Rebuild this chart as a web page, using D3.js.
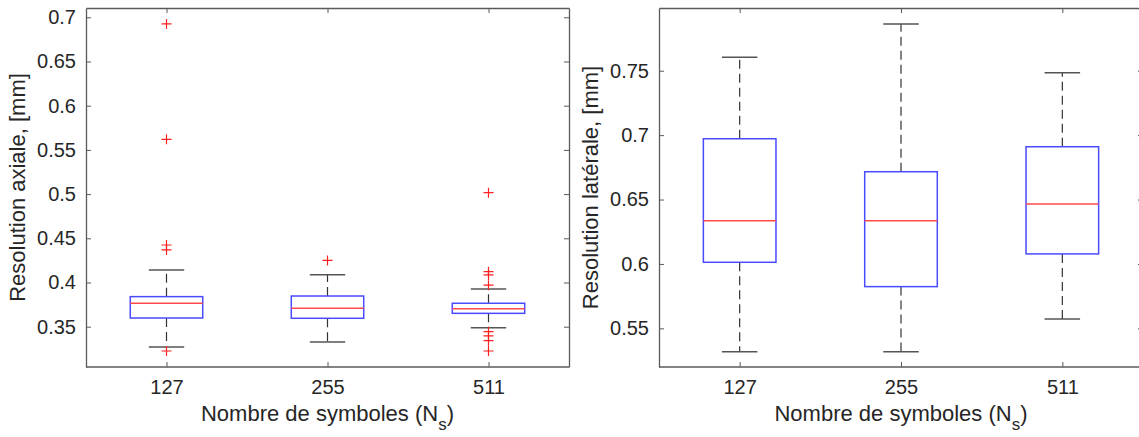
<!DOCTYPE html>
<html><head><meta charset="utf-8">
<script src="https://cdn.jsdelivr.net/npm/d3@7"></script>
<style>
html,body{margin:0;padding:0;background:#fff;}
svg{display:block;font-family:"Liberation Sans",Arial,Helvetica,sans-serif;}
</style></head>
<body><svg id="chart" width="1139" height="437"></svg>
<script>
// ---- data ----
const categories = ["127", "255", "511"];
// Left panel: Resolution axiale
const axialQ1 = [0.3598, 0.3595, 0.3651];
const axialMedian = [0.3765, 0.3708, 0.3704];
const axialQ3 = [0.3840, 0.3847, 0.3765];
const axialWhiskerLow = [0.3270, 0.3327, 0.3489];
const axialWhiskerHigh = [0.4140, 0.4088, 0.3926];
const axialOutliers127 = [0.6925, 0.5620, 0.4424, 0.4368, 0.3225];
const axialOutliers255 = [0.4250];
const axialOutliers511 = [0.5016, 0.4122, 0.4085, 0.3970, 0.3444, 0.3395, 0.3342, 0.3225];
const axialTicks = [0.35, 0.4, 0.45, 0.5, 0.55, 0.6, 0.65, 0.7];
const axialDomain = [0.3044, 0.7105];
// Right panel: Resolution latérale
const latQ1 = [0.6013, 0.5824, 0.6078];
const latMedian = [0.6335, 0.6335, 0.6465];
const latQ3 = [0.6972, 0.6716, 0.6910];
const latWhiskerLow = [0.5318, 0.5318, 0.5572];
const latWhiskerHigh = [0.7604, 0.7862, 0.7484];
const latTicks = [0.55, 0.6, 0.65, 0.7, 0.75];
const latDomain = [0.52, 0.7987];

const svg = d3.select("#chart");
const axisColor = "#5a5a5a";
const textColor = "#262626";

function panel(opts) {
  const {x0, x1, y0, y1, domain, ticks, q1, med, q3, wl, wh, outliers, ylabel, ylabelX} = opts;
  const g = svg.append("g");
  const x = d3.scalePoint().domain(categories).range([x0, x1]).padding(0.5);
  const y = d3.scaleLinear().domain(domain).range([y1, y0]);
  const step = x.step();
  const boxW = step * 0.45, capW = step * 0.22;
  const fmt = d => String(+d.toFixed(2));

  // axes (box)
  const axL = g.append("g").attr("transform", `translate(${x0},0)`)
    .call(d3.axisLeft(y).tickValues(ticks).tickFormat(fmt).tickSizeInner(-5).tickSizeOuter(0).tickPadding(10));
  const axR = g.append("g").attr("transform", `translate(${x1},0)`)
    .call(d3.axisRight(y).tickValues(ticks).tickFormat("").tickSizeInner(-5).tickSizeOuter(0));
  const axB = g.append("g").attr("transform", `translate(0,${y1})`)
    .call(d3.axisBottom(x).tickSizeInner(-5).tickSizeOuter(0).tickPadding(13));
  const axT = g.append("g").attr("transform", `translate(0,${y0})`)
    .call(d3.axisTop(x).tickFormat("").tickSizeInner(-5).tickSizeOuter(0));
  [axL, axR, axB, axT].forEach(a => {
    a.select(".domain").attr("stroke", axisColor).attr("stroke-width", 1.3);
    a.selectAll(".tick line").attr("stroke", axisColor);
    a.selectAll(".tick text").attr("fill", textColor).style("font-size", "20px")
      .style("font-family", '"Liberation Sans",Arial,sans-serif');
  });
  axB.selectAll(".domain").attr("d", `M${x0},0H${x1}`);

  const data = categories.map((c, i) => ({c, q1: q1[i], med: med[i], q3: q3[i], wl: wl[i], wh: wh[i]}));
  const bx = g.append("g");
  // whiskers (dashed)
  bx.selectAll(".wu").data(data).join("line")
    .attr("x1", d => x(d.c)).attr("x2", d => x(d.c))
    .attr("y1", d => y(d.q3)).attr("y2", d => y(d.wh))
    .attr("stroke", "#333").attr("stroke-width", 1.2).attr("stroke-dasharray", "9,5");
  bx.selectAll(".wd").data(data).join("line")
    .attr("x1", d => x(d.c)).attr("x2", d => x(d.c))
    .attr("y1", d => y(d.q1)).attr("y2", d => y(d.wl))
    .attr("stroke", "#333").attr("stroke-width", 1.2).attr("stroke-dasharray", "9,5");
  // caps
  ["wh", "wl"].forEach(k => {
    bx.selectAll(".cap" + k).data(data).join("line")
      .attr("x1", d => x(d.c) - capW / 2).attr("x2", d => x(d.c) + capW / 2)
      .attr("y1", d => y(d[k])).attr("y2", d => y(d[k]))
      .attr("stroke", "#555").attr("stroke-width", 1.5);
  });
  // boxes
  bx.selectAll("rect").data(data).join("rect")
    .attr("x", d => x(d.c) - boxW / 2).attr("width", boxW)
    .attr("y", d => y(d.q3)).attr("height", d => y(d.q1) - y(d.q3))
    .attr("fill", "none").attr("stroke", "#4a4aff").attr("stroke-width", 1.5);
  // medians
  bx.selectAll(".med").data(data).join("line")
    .attr("x1", d => x(d.c) - boxW / 2).attr("x2", d => x(d.c) + boxW / 2)
    .attr("y1", d => y(d.med)).attr("y2", d => y(d.med))
    .attr("stroke", "#ff4a4a").attr("stroke-width", 1.5);
  // outliers
  const pts = [];
  outliers.forEach((arr, i) => arr.forEach(v => pts.push({c: categories[i], v})));
  const s = 5;
  bx.selectAll(".out").data(pts).join("path")
    .attr("d", d => `M${x(d.c) - s},${y(d.v)}H${x(d.c) + s}M${x(d.c)},${y(d.v) - s}V${y(d.v) + s}`)
    .attr("stroke", "#ff2020").attr("stroke-width", 1.2).attr("fill", "none");

  // labels
  g.append("text").attr("transform", `translate(${ylabelX},${(y0 + y1) / 2}) rotate(-90)`)
    .attr("text-anchor", "middle").attr("fill", textColor).style("font-size", "22px").text(ylabel);
  const xl = g.append("text").attr("x", (x0 + x1) / 2).attr("y", 421)
    .attr("text-anchor", "middle").attr("fill", textColor).style("font-size", "22px");
  xl.append("tspan").text("Nombre de symboles (N");
  xl.append("tspan").attr("dy", 9).style("font-size", "17px").text("s");
  xl.append("tspan").attr("dy", -9).text(")");
}

panel({x0: 86, x1: 569, y0: 8, y1: 367, domain: axialDomain, ticks: axialTicks,
  q1: axialQ1, med: axialMedian, q3: axialQ3, wl: axialWhiskerLow, wh: axialWhiskerHigh,
  outliers: [axialOutliers127, axialOutliers255, axialOutliers511],
  ylabel: "Resolution axiale, [mm]", ylabelX: 25});
panel({x0: 659, x1: 1143, y0: 8, y1: 367, domain: latDomain, ticks: latTicks,
  q1: latQ1, med: latMedian, q3: latQ3, wl: latWhiskerLow, wh: latWhiskerHigh,
  outliers: [[], [], []],
  ylabel: "Resolution latérale, [mm]", ylabelX: 598});
</script></body></html>
